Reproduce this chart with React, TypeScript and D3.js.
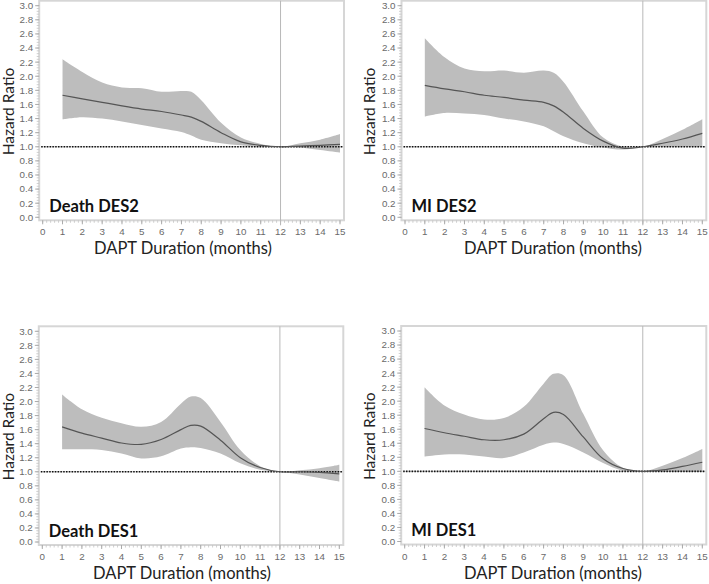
import React from "react";
import * as d3 from "d3";

const months = [1, 2, 3, 4, 5, 6, 7, 7.5, 8, 9, 10, 11, 12, 13, 14, 15];

const deathDes2Est = [1.73, 1.68, 1.63, 1.58, 1.535, 1.5, 1.45, 1.42, 1.36, 1.2, 1.07, 1.02, 1.0, 1.01, 1.02, 1.035];
const deathDes2Up = [2.24, 2.06, 1.91, 1.84, 1.83, 1.78, 1.79, 1.78, 1.66, 1.34, 1.13, 1.04, 1.0, 1.05, 1.1, 1.18];
const deathDes2Lo = [1.39, 1.42, 1.4, 1.36, 1.31, 1.26, 1.21, 1.16, 1.1, 1.05, 1.02, 1.0, 1.0, 0.99, 0.955, 0.92];

const miDes2Est = [1.87, 1.82, 1.78, 1.73, 1.7, 1.66, 1.63, 1.58, 1.49, 1.26, 1.08, 0.98, 1.0, 1.05, 1.11, 1.19];
const miDes2Up = [2.54, 2.27, 2.11, 2.07, 2.08, 2.05, 2.08, 2.05, 1.92, 1.5, 1.13, 1.0, 1.0, 1.11, 1.24, 1.39];
const miDes2Lo = [1.43, 1.48, 1.47, 1.45, 1.4, 1.36, 1.29, 1.22, 1.15, 1.05, 0.99, 0.96, 1.0, 1.0, 1.0, 1.0];

const deathDes1Est = [1.64, 1.55, 1.48, 1.41, 1.39, 1.46, 1.6, 1.66, 1.65, 1.45, 1.2, 1.06, 1.0, 1.0, 0.99, 0.97];
const deathDes1Up = [2.1, 1.89, 1.77, 1.69, 1.64, 1.71, 1.97, 2.07, 2.05, 1.71, 1.31, 1.08, 1.0, 1.02, 1.05, 1.1];
const deathDes1Lo = [1.32, 1.32, 1.31, 1.26, 1.19, 1.22, 1.33, 1.35, 1.34, 1.26, 1.12, 1.03, 1.0, 0.96, 0.91, 0.86];

const miDes1Est = [1.61, 1.55, 1.5, 1.45, 1.45, 1.53, 1.75, 1.84, 1.81, 1.49, 1.18, 1.04, 1.0, 1.02, 1.07, 1.13];
const miDes1Up = [2.2, 1.94, 1.81, 1.74, 1.76, 1.92, 2.25, 2.39, 2.37, 1.82, 1.3, 1.05, 1.0, 1.08, 1.19, 1.32];
const miDes1Lo = [1.21, 1.24, 1.24, 1.21, 1.19, 1.27, 1.38, 1.41, 1.39, 1.27, 1.12, 1.01, 1.0, 0.99, 0.99, 0.99];

const xTicks = d3.range(0, 16, 1);
const yTicks = d3.range(0, 3.01, 0.2).map((v) => Math.round(v * 10) / 10);
const xMinor = d3.range(0, 15.001, 0.2);
const yMinor = d3.range(0, 3.001, 0.04);

const panels = [
  { label: "Death DES2", est: deathDes2Est, up: deathDes2Up, lo: deathDes2Lo, x0: 42.7, x1: 340, yT: 5.7, yB: 217.3, titleX: 183, yTitleX: 14, labDy: 1.5 },
  { label: "MI DES2", est: miDes2Est, up: miDes2Up, lo: miDes2Lo, x0: 405, x1: 702.3, yT: 5.7, yB: 217.3, titleX: 553, yTitleX: 374.5, labDy: 1.5 },
  { label: "Death DES1", est: deathDes1Est, up: deathDes1Up, lo: deathDes1Lo, x0: 42.3, x1: 339.3, yT: 331.3, yB: 542, titleX: 182, yTitleX: 14, labDy: 2 },
  { label: "MI DES1", est: miDes1Est, up: miDes1Up, lo: miDes1Lo, x0: 404.7, x1: 702.3, yT: 331, yB: 541.5, titleX: 553, yTitleX: 374.5, labDy: 2 },
];

function Panel({ p }: { p: any }) {
  const x = d3.scaleLinear().domain([0, 15]).range([p.x0, p.x1]);
  const y = d3.scaleLinear().domain([0, 3]).range([p.yB, p.yT]);
  const fL = p.x0 - 3.5;
  const fR = p.x1 + 4;
  const fT = p.yT - 5;
  const fB = p.yB + 3;
  const data = months.map((m, i) => ({ m, e: p.est[i], u: p.up[i], l: p.lo[i] }));
  const curve = d3.curveCatmullRom.alpha(0.5);
  const area = d3
    .area<any>()
    .x((d) => x(d.m))
    .y0((d) => y(d.l))
    .y1((d) => y(d.u))
    .curve(curve);
  const line = d3
    .line<any>()
    .x((d) => x(d.m))
    .y((d) => y(d.e))
    .curve(curve);
  const tickFont = "'Liberation Sans', Arial, sans-serif";
  const labFont = "Lato, 'Open Sans', sans-serif";
  return (
    <g>
      <rect x={fL} y={fT} width={fR - fL} height={fB - fT} fill="#fff" stroke="#d6d6d6" strokeWidth={2} />
      {yMinor.map((v, i) => (
        <line key={"ym" + i} x1={fL - 2.5} x2={fL} y1={y(v)} y2={y(v)} stroke="#c4c4c4" strokeWidth={0.8} />
      ))}
      {yTicks.map((v) => (
        <g key={"y" + v}>
          <line x1={fL - 4} x2={fL} y1={y(v)} y2={y(v)} stroke="#aaa" strokeWidth={1} />
          <text x={fL - 6} y={y(v) + 3.4} fontSize={9.8} fill="#6a6a6a" textAnchor="end" fontFamily={tickFont}>
            {v.toFixed(1)}
          </text>
        </g>
      ))}
      {xMinor.map((v, i) => (
        <line key={"xm" + i} x1={x(v)} x2={x(v)} y1={fB} y2={fB + 2.5} stroke="#c4c4c4" strokeWidth={0.8} />
      ))}
      {xTicks.map((v) => (
        <g key={"x" + v}>
          <line x1={x(v)} x2={x(v)} y1={fB} y2={fB + 4} stroke="#aaa" strokeWidth={1} />
          <text x={x(v)} y={fB + 15} fontSize={9.8} fill="#6a6a6a" textAnchor="middle" fontFamily={tickFont}>
            {v}
          </text>
        </g>
      ))}
      <path d={area(data) || ""} fill="#bdbdbd" />
      <line x1={x(12)} x2={x(12)} y1={fT} y2={fB + 5} stroke="#b8b8b8" strokeWidth={1} />
      <line x1={fL + 2} x2={fR - 1} y1={y(1)} y2={y(1)} stroke="#999" strokeWidth={0.6} />
      <line x1={fL + 2} x2={fR - 1} y1={y(1)} y2={y(1)} stroke="#111" strokeWidth={1.6} strokeDasharray="1.5 1.3" />
      <path d={line(data) || ""} fill="none" stroke="#555" strokeWidth={1.2} />
      <text x={fL + 10} y={y(0.1) + p.labDy} fontSize={16.5} fontWeight="bold" fill="#111" fontFamily={labFont}>
        {p.label}
      </text>
      <text x={p.titleX} y={fB + 34} fontSize={16.5} fill="#222" textAnchor="middle" fontFamily={labFont}>
        DAPT Duration (months)
      </text>
      <text
        transform={`translate(${p.yTitleX},${(p.yT + p.yB) / 2}) rotate(-90)`}
        fontSize={15.5}
        fill="#222"
        textAnchor="middle"
        fontFamily={labFont}
      >
        Hazard Ratio
      </text>
    </g>
  );
}

export default function App() {
  return (
    <svg width={709} height={584} style={{ position: "absolute", left: 0, top: 0, background: "#fff" }}>
      <rect width={709} height={584} fill="#fff" />
      {panels.map((p) => (
        <Panel key={p.label} p={p} />
      ))}
    </svg>
  );
}
